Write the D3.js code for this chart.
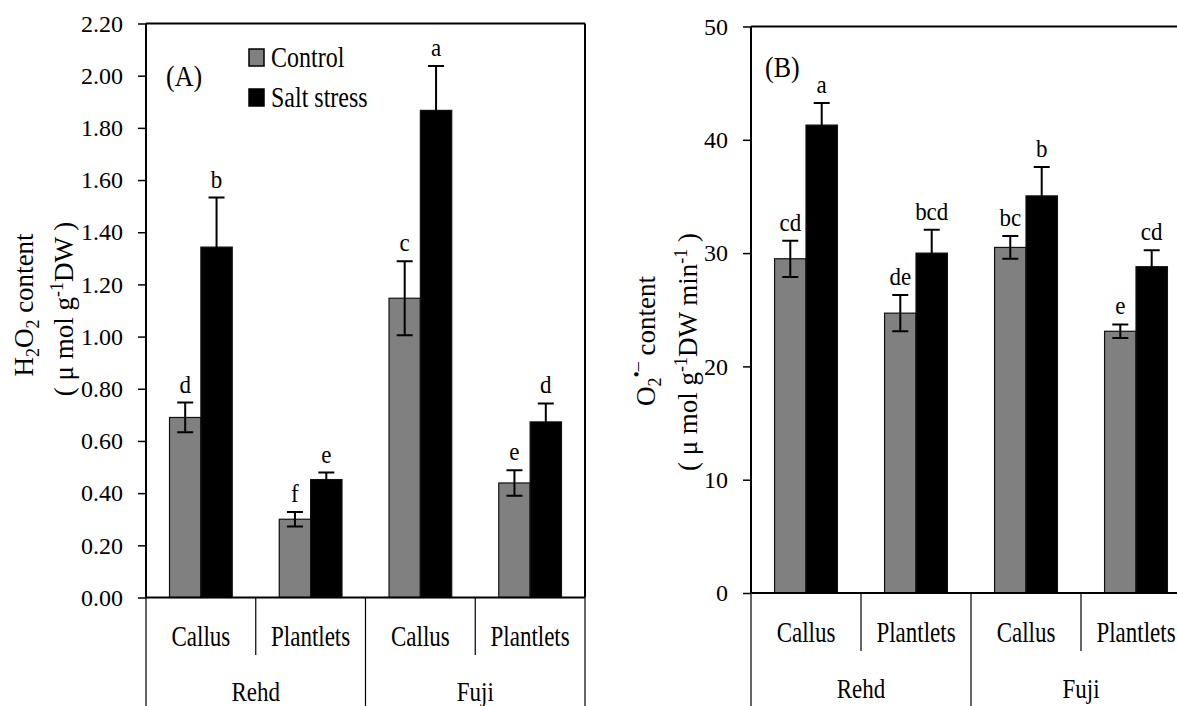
<!DOCTYPE html>
<html>
<head>
<meta charset="utf-8">
<script src="https://cdn.jsdelivr.net/npm/d3@7"></script>
<style>
  html, body { margin: 0; padding: 0; background: #fff; }
  svg { display: block; }
</style>
</head>
<body>
<div id="chart"></div>
<script>
var W = 1177, H = 706;
var FONT = "'Liberation Serif', 'Times New Roman', Times, serif";

/* Categories */
var cultivars = ["Rehd", "Fuji"];
var materials = ["Callus", "Plantlets"];
var seriesNames = ["Control", "Salt stress"];
var seriesColors = ["#808080", "#000000"];

/* Panel A: H2O2 content */
var h2o2Control        = [0.69, 0.30, 1.147, 0.439];
var h2o2ControlErr     = [0.057, 0.028, 0.142, 0.049];
var h2o2Salt           = [1.343, 0.452, 1.867, 0.673];
var h2o2SaltErr        = [0.19, 0.027, 0.17, 0.071];
var h2o2ControlLetters = ["d", "f", "c", "e"];
var h2o2SaltLetters    = ["b", "e", "a", "d"];
var h2o2Ticks          = [0, 0.2, 0.4, 0.6, 0.8, 1.0, 1.2, 1.4, 1.6, 1.8, 2.0, 2.2];

/* Panel B: O2 radical content */
var o2Control        = [29.5, 24.7, 30.5, 23.1];
var o2ControlErr     = [1.6, 1.6, 1.0, 0.6];
var o2Salt           = [41.3, 30.0, 35.05, 28.8];
var o2SaltErr        = [1.95, 2.05, 2.55, 1.45];
var o2ControlLetters = ["cd", "de", "bc", "e"];
var o2SaltLetters    = ["a", "bcd", "b", "cd"];
var o2Ticks          = [0, 10, 20, 30, 40, 50];

var svg = d3.select("#chart").append("svg")
    .attr("width", W)
    .attr("height", H)
    .style("background", "#fff");

/**
 * Text placed at (x, y) baseline, optionally stretched vertically
 */
function sText(g, x, y, str, size, sy, anchor){
    return g.append("text")
        .attr("transform", "translate(" + x + "," + y + ") scale(1," + sy + ")")
        .attr("text-anchor", anchor || "middle")
        .style("font-family", FONT)
        .style("font-size", size + "px")
        .style("fill", "#000")
        .text(str);
}

/**
 * Draws one grouped bar panel
 */
function drawPanel(p){
    var g = svg.append("g");

    var cats = [];
    cultivars.forEach(function(c){
        materials.forEach(function(m){ cats.push({cultivar: c, material: m}); });
    });

    var x0 = d3.scaleBand()
        .domain(d3.range(cats.length))
        .range([p.left, p.left + p.width]);
    var x1 = d3.scaleBand()
        .domain(seriesNames)
        .range([0, x0.bandwidth()])
        .paddingOuter(0.75);
    var y = d3.scaleLinear()
        .domain([0, p.max])
        .range([p.bottom, p.top]);

    var rows = cats.map(function(c, i){
        return [
            {s: seriesNames[0], c: seriesColors[0], v: p.control[i], e: p.controlErr[i], l: p.controlLetters[i]},
            {s: seriesNames[1], c: seriesColors[1], v: p.salt[i], e: p.saltErr[i], l: p.saltLetters[i]}
        ];
    });

    /* Y axis */
    var axis = d3.axisLeft(y)
        .tickValues(p.ticks)
        .tickFormat(p.format)
        .tickSize(8)
        .tickSizeOuter(0)
        .tickPadding(15);
    var ax = g.append("g")
        .attr("transform", "translate(" + p.left + ",0)")
        .call(axis);
    ax.select(".domain").remove();
    ax.selectAll(".tick line").attr("stroke", "#000").attr("stroke-width", 1.5);
    ax.selectAll(".tick text")
        .style("font-family", FONT)
        .style("font-size", "24px")
        .attr("fill", "#000");

    /* Bars */
    var grp = g.selectAll(".grp")
        .data(rows)
        .enter().append("g")
            .attr("class", "grp")
            .attr("transform", function(d, i){ return "translate(" + x0(i) + ",0)"; });

    grp.selectAll("rect")
        .data(function(d){ return d; })
        .enter().append("rect")
            .attr("x", function(d){ return x1(d.s); })
            .attr("y", function(d){ return y(d.v); })
            .attr("width", x1.bandwidth())
            .attr("height", function(d){ return y(0) - y(d.v); })
            .attr("fill", function(d){ return d.c; })
            .attr("stroke", "#111")
            .attr("stroke-width", 1.2);

    /* Error bars */
    var cap = 8;
    grp.selectAll(".err")
        .data(function(d){ return d; })
        .enter().append("path")
            .attr("class", "err")
            .attr("fill", "none")
            .attr("stroke", "#000")
            .attr("stroke-width", 2)
            .attr("d", function(d){
                var cx = x1(d.s) + x1.bandwidth() / 2,
                    y1 = y(d.v + d.e), y2 = y(d.v - d.e);
                return "M" + cx + "," + y2 + "V" + y1 +
                       "M" + (cx - cap) + "," + y1 + "H" + (cx + cap) +
                       "M" + (cx - cap) + "," + y2 + "H" + (cx + cap);
            });

    /* Significance letters */
    grp.each(function(d){
        var gg = d3.select(this);
        d.forEach(function(b){
            sText(gg, x1(b.s) + x1.bandwidth() / 2, y(b.v + b.e) - 10, b.l, 23, 1.08);
        });
    });

    /* Frame */
    var right = p.left + p.width;
    g.append("line").attr("x1", p.left).attr("x2", right).attr("y1", p.top).attr("y2", p.top)
        .attr("stroke", "#000").attr("stroke-width", 2);
    g.append("line").attr("x1", p.left).attr("x2", right).attr("y1", p.bottom).attr("y2", p.bottom)
        .attr("stroke", "#000").attr("stroke-width", 2);
    g.append("line").attr("x1", p.left).attr("x2", p.left).attr("y1", p.top).attr("y2", p.bottom)
        .attr("stroke", "#000").attr("stroke-width", 2);
    g.append("line").attr("x1", right).attr("x2", right).attr("y1", p.top).attr("y2", p.bottom)
        .attr("stroke", "#000").attr("stroke-width", 2);

    /* Category dividers below axis */
    var n = cats.length;
    for (var i = 0; i <= n; i++){
        var xx = i < n ? x0(i) : right;
        var long = (i % materials.length === 0);
        g.append("line")
            .attr("x1", xx).attr("x2", xx)
            .attr("y1", p.bottom).attr("y2", long ? H : p.shortEnd)
            .attr("stroke", "#000").attr("stroke-width", 1.2);
    }

    /* Category labels */
    cats.forEach(function(c, i){
        sText(g, x0(i) + x0.bandwidth() / 2, p.catY, c.material, 23, 1.27);
    });
    cultivars.forEach(function(c, k){
        var a = x0(k * materials.length),
            b = x0(k * materials.length + materials.length - 1) + x0.bandwidth();
        sText(g, (a + b) / 2, p.groupY, c, 23, 1.15);
    });

    /* Panel tag */
    sText(g, p.tagX, p.tagY, p.tag, 26, 1.15, "start");

    return {x0: x0, y: y, g: g};
}

/* Panel A */
var pa = drawPanel({
    left: 146, width: 439, top: 23.5, bottom: 597.5, max: 2.2,
    control: h2o2Control, controlErr: h2o2ControlErr, controlLetters: h2o2ControlLetters,
    salt: h2o2Salt, saltErr: h2o2SaltErr, saltLetters: h2o2SaltLetters,
    ticks: h2o2Ticks, format: d3.format(".2f"),
    shortEnd: 655, catY: 646, groupY: 701,
    tag: "(A)", tagX: 166, tagY: 86
});

/* Panel B */
var pb = drawPanel({
    left: 751, width: 440, top: 26.5, bottom: 593, max: 50,
    control: o2Control, controlErr: o2ControlErr, controlLetters: o2ControlLetters,
    salt: o2Salt, saltErr: o2SaltErr, saltLetters: o2SaltLetters,
    ticks: o2Ticks, format: d3.format("d"),
    shortEnd: 651, catY: 642, groupY: 698,
    tag: "(B)", tagX: 765, tagY: 77
});

/* Legend (panel A) */
var legend = svg.append("g");
seriesNames.forEach(function(s, i){
    var ly = 49 + i * 40;
    legend.append("rect")
        .attr("x", 249).attr("y", ly)
        .attr("width", 15).attr("height", 17)
        .attr("fill", seriesColors[i])
        .attr("stroke", "#000").attr("stroke-width", 1.5);
    sText(legend, 271, ly + 17.5, s, 24, 1.2, "start");
});

/* Y axis titles */
function title(x, y, parts){
    var t = svg.append("text")
        .attr("transform", "translate(" + x + "," + y + ") rotate(-90)")
        .attr("text-anchor", "middle")
        .style("font-family", FONT)
        .style("font-size", "27px")
        .style("fill", "#000");
    parts.forEach(function(p){
        var ts = t.append("tspan").text(p.t);
        if (p.dy) ts.attr("dy", p.dy);
        if (p.fs) ts.style("font-size", p.fs + "px");
    });
}

title(33, 305, [
    {t: "H"}, {t: "2", dy: 6, fs: 18}, {t: "O", dy: -6}, {t: "2", dy: 6, fs: 18}, {t: " content", dy: -6}
]);
title(73, 309, [
    {t: "( \u03bc  mol g"}, {t: "-1", dy: -10, fs: 18}, {t: "DW )", dy: 10}
]);
title(655, 341, [
    {t: "O"}, {t: "2", dy: 6, fs: 18}, {t: "\u2022\u2013", dy: -18, fs: 18}, {t: "  content", dy: 12}
]);
title(697, 352, [
    {t: "( \u03bc  mol g"}, {t: "-1", dy: -10, fs: 18}, {t: "DW  min", dy: 10}, {t: "-1", dy: -10, fs: 18}, {t: " )", dy: 10}
]);
</script>
</body>
</html>
